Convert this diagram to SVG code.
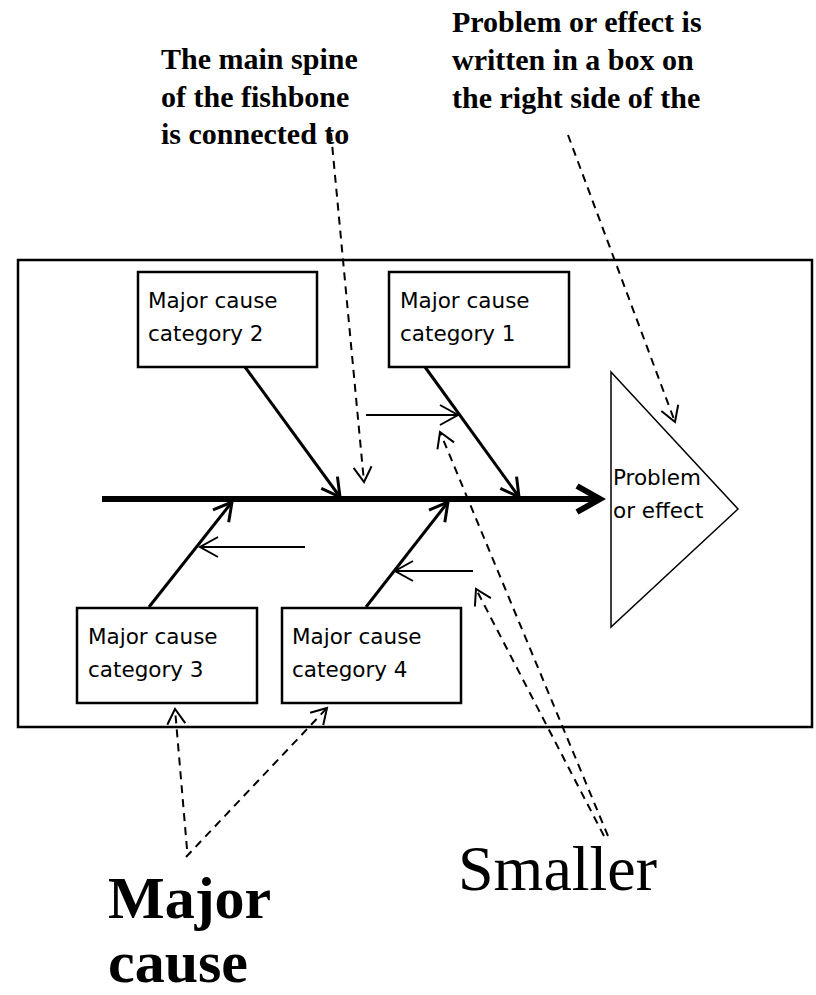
<svg xmlns="http://www.w3.org/2000/svg" width="816" height="995" viewBox="0 0 816 995">
<style>
  .box { fill: #fff; stroke: #000; stroke-width: 2.5; }
  .bt { font-family: "Comic Sans MS", "DejaVu Sans", "Noto Sans", sans-serif; font-size: 21.5px; fill: #000; }
  .note { font-family: "Liberation Serif", "Times New Roman", serif; font-weight: bold; font-size: 30px; fill: #000; }
  .big { font-family: "Liberation Serif", "Times New Roman", serif; fill: #000; }
  .bone { stroke: #000; stroke-width: 3; fill: none; }
  .rib { stroke: #000; stroke-width: 2; fill: none; }
  .dash { stroke: #000; stroke-width: 2; fill: none; stroke-dasharray: 8 6; }
</style>
<defs>
  <marker id="mSpine" markerUnits="userSpaceOnUse" viewBox="-30 -20 36 40" refX="0" refY="0" markerWidth="36" markerHeight="40" orient="auto">
    <path d="M-23,-13 L0,0 L-23,13" fill="none" stroke="#000" stroke-width="6" stroke-linejoin="miter"/>
  </marker>
  <marker id="mBone" markerUnits="userSpaceOnUse" viewBox="-24 -16 28 32" refX="0" refY="0" markerWidth="28" markerHeight="32" orient="auto">
    <path d="M-18,-10 L0,0 L-18,10" fill="none" stroke="#000" stroke-width="3"/>
  </marker>
  <marker id="mRib" markerUnits="userSpaceOnUse" viewBox="-24 -16 28 32" refX="0" refY="0" markerWidth="28" markerHeight="32" orient="auto">
    <path d="M-18,-10 L0,0 L-18,10" fill="none" stroke="#000" stroke-width="2"/>
  </marker>
  <marker id="mDash" markerUnits="userSpaceOnUse" viewBox="-22 -14 26 28" refX="0" refY="0" markerWidth="26" markerHeight="28" orient="auto">
    <path d="M-15,-9 L0,0 L-15,9" fill="none" stroke="#000" stroke-width="2" stroke-dasharray="none"/>
  </marker>
</defs>
<rect width="816" height="995" fill="#fff"/>

<g id="notes">
  <text class="note" x="161" y="69">The main spine</text>
  <text class="note" x="161" y="107">of the fishbone</text>
  <text class="note" x="161" y="144">is connected to</text>
  <text class="note" x="452" y="32">Problem or effect is</text>
  <text class="note" x="452" y="70">written in a box on</text>
  <text class="note" x="452" y="108">the right side of the</text>
  <text class="big" x="458" y="890" font-size="64">Smaller</text>
  <text class="big" x="108" y="918" font-size="60" font-weight="bold">Major</text>
  <text class="big" x="108" y="982" font-size="60" font-weight="bold">cause</text>
</g>

<g id="frame">
  <rect x="18" y="260" width="794" height="467" fill="none" stroke="#000" stroke-width="2.5"/>
</g>

<g id="cat2">
  <rect class="box" x="138" y="272" width="179" height="95"/>
  <text class="bt" x="148" y="308">Major cause</text>
  <text class="bt" x="148" y="341">category 2</text>
</g>
<g id="cat1">
  <rect class="box" x="389" y="272" width="180" height="95"/>
  <text class="bt" x="400" y="308">Major cause</text>
  <text class="bt" x="400" y="341">category 1</text>
</g>
<g id="cat3">
  <rect class="box" x="77" y="608" width="180" height="95"/>
  <text class="bt" x="88" y="644">Major cause</text>
  <text class="bt" x="88" y="677">category 3</text>
</g>
<g id="cat4">
  <rect class="box" x="282" y="608" width="179" height="95"/>
  <text class="bt" x="292" y="644">Major cause</text>
  <text class="bt" x="292" y="677">category 4</text>
</g>
<g id="problem">
  <polygon points="611,372 738,509 611,627" fill="#fff" stroke="#000" stroke-width="1.5"/>
  <text class="bt" x="613" y="485">Problem</text>
  <text class="bt" x="613" y="518">or effect</text>
</g>

<g id="connectors">
  <line x1="102" y1="499" x2="600" y2="499" stroke="#000" stroke-width="6" marker-end="url(#mSpine)"/>
  <line class="bone" x1="245" y1="367" x2="340" y2="497" marker-end="url(#mBone)"/>
  <line class="bone" x1="425" y1="367" x2="519" y2="497" marker-end="url(#mBone)"/>
  <line class="bone" x1="149" y1="607" x2="232" y2="502" marker-end="url(#mBone)"/>
  <line class="bone" x1="366" y1="607" x2="448" y2="502" marker-end="url(#mBone)"/>
  <line class="rib" x1="366" y1="415" x2="458" y2="415" marker-end="url(#mRib)"/>
  <line class="rib" x1="305" y1="547" x2="200" y2="547" marker-end="url(#mRib)"/>
  <line class="rib" x1="473" y1="571" x2="395" y2="571" marker-end="url(#mRib)"/>
  <line class="dash" x1="331" y1="133" x2="364" y2="482" marker-end="url(#mDash)"/>
  <line class="dash" x1="568" y1="135" x2="675" y2="422" marker-end="url(#mDash)"/>
  <line class="dash" x1="608" y1="836" x2="440" y2="432" marker-end="url(#mDash)"/>
  <line class="dash" x1="604" y1="836" x2="476" y2="589" marker-end="url(#mDash)"/>
  <line class="dash" x1="187" y1="849" x2="175" y2="709" marker-end="url(#mDash)"/>
  <line class="dash" x1="186" y1="857" x2="327" y2="708" marker-end="url(#mDash)"/>
</g>
</svg>
